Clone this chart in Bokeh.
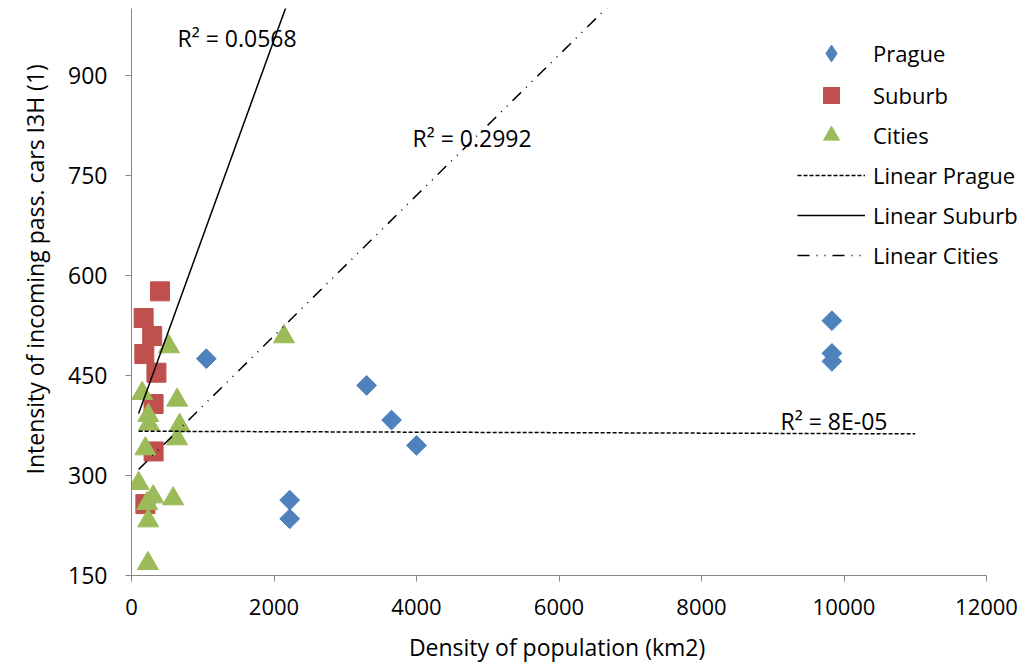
import numpy as np
from bokeh.plotting import figure
from bokeh.models import Range1d, FixedTicker, Legend, LegendItem, Title, ColumnDataSource
from bokeh.embed import file_html
from bokeh.resources import INLINE
from bokeh.core.properties import value

# ---------------- data ----------------
prague_x = [1050, 3300, 3650, 4000, 2220, 2220, 9830, 9830, 9830]
prague_y = [475, 435, 383, 345, 263, 235, 532, 483, 471]

suburb_x = [400, 170, 290, 180, 350, 310, 310, 195]
suburb_y = [576, 536, 509, 482, 454, 407, 336, 257]

cities_x = [2140, 525, 150, 640, 235, 245, 675, 640, 195, 100, 305, 585, 220, 235, 230]
cities_y = [508, 493, 423, 413, 390, 377, 375, 355, 340, 288, 268, 265, 258, 232, 168]

trend_names = ["Linear Prague", "Linear Suburb", "Linear Cities"]
trend_slope = [-0.00036, 0.2946, 0.1053]
trend_intercept = [366.3, 363.4, 298.6]
trend_x_span = [100, 11000]

r2_texts = ["R² = 8E-05", "R² = 0.0568", "R² = 0.2992"]
r2_x = [9109, 646, 3944]
r2_y = [381, 956, 806]

x_ticks = [0, 2000, 4000, 6000, 8000, 10000, 12000]
y_ticks = [150, 300, 450, 600, 750, 900]
x_axis_end = 12000

FONT = "Open Sans"
AXIS_GRAY = "#868686"
BLUE, RED, GREEN = "#4F81BD", "#C0504D", "#9BBB59"

p = figure(width=1024, height=666,
           x_range=Range1d(0, x_axis_end * (1024 - 131) / 855), y_range=Range1d(150, 1000),
           output_backend="svg", toolbar_location=None,
           min_border_left=131, min_border_right=0,
           min_border_top=8, min_border_bottom=91)
p.outline_line_color = None
p.grid.visible = False
p.background_fill_color = "white"

for ax in (p.xaxis[0], p.yaxis[0]):
    ax.axis_line_color = AXIS_GRAY
    ax.major_tick_line_color = AXIS_GRAY
    ax.major_tick_out = 6
    ax.major_tick_in = 0
    ax.minor_tick_line_color = None
    ax.major_label_text_font = FONT
    ax.major_label_text_color = "black"

p.xaxis.bounds = (0, x_axis_end)
p.xaxis.ticker = FixedTicker(ticks=x_ticks)
p.yaxis.ticker = FixedTicker(ticks=y_ticks)
p.xaxis.major_label_text_font_size = "22px"
p.yaxis.major_label_text_font_size = "23px"
p.xaxis.major_label_standoff = 17
p.yaxis.major_label_standoff = 18

# trailing no-break spaces centre the visible title under the axis (0..12000)
p.xaxis.axis_label = "Density of population (km2)" + "\u00a0" * 7
p.xaxis.axis_label_text_font = FONT
p.xaxis.axis_label_text_font_size = "23px"
p.xaxis.axis_label_text_font_style = "normal"
p.xaxis.axis_label_text_color = "black"
p.xaxis.axis_label_standoff = 13

ytitle = Title(text="Intensity of incoming pass. cars I3H (1)", align="left", offset=101,
               text_font=FONT, text_font_size="23px", text_font_style="normal",
               text_color="black", standoff=29)
p.add_layout(ytitle, "left")

# ---------------- markers ----------------
# legend key for Prague (diamond); drawn first, fully covered by the real markers
r_prague_key = p.scatter(prague_x, prague_y, marker="diamond", size=17,
                         fill_color=BLUE, line_color=BLUE)
r_prague = p.scatter(prague_x, prague_y, marker="square", angle=np.pi / 4, size=14,
                     fill_color=BLUE, line_color=BLUE)
r_suburb = p.scatter(suburb_x, suburb_y, marker="square", size=19,
                     fill_color=RED, line_color=RED)
r_cities = p.scatter(cities_x, cities_y, marker="triangle", size=21,
                     fill_color=GREEN, line_color=GREEN)

# ---------------- trend lines ----------------
dashes = ["4 2", "solid", "12 7 1 7 1 7"]
tx = np.array(trend_x_span, dtype=float)
trend_renderers = []
for s, b, d in zip(trend_slope, trend_intercept, dashes):
    r = p.line(tx, b + s * tx, line_color="black", line_width=1.5, line_dash=d)
    trend_renderers.append(r)

# ---------------- R² labels ----------------
src = ColumnDataSource(dict(x=r2_x, y=r2_y, t=r2_texts))
p.text(x="x", y="y", text="t", source=src, text_font=value(FONT), text_font_size="23px",
       text_color="black", text_align="left", text_baseline="middle")

# ---------------- legends ----------------
def style(leg):
    leg.padding = 0
    leg.margin = 0
    leg.spacing = 0
    leg.border_line_color = None
    leg.background_fill_alpha = 0
    leg.label_text_font = FONT
    leg.label_text_font_size = "22px"
    leg.label_text_color = "black"
    leg.label_standoff = 8
    leg.glyph_width = 68
    leg.label_text_baseline = "middle"

leg1 = Legend(items=[LegendItem(label="Prague", renderers=[r_prague_key])],
              location=(666, 501))
style(leg1)
leg1.glyph_height = 42

leg2 = Legend(items=[LegendItem(label="Suburb", renderers=[r_suburb]),
                     LegendItem(label="Cities", renderers=[r_cities])] +
                    [LegendItem(label=n, renderers=[r]) for n, r in zip(trend_names, trend_renderers)],
              location=(666, 300))
style(leg2)
leg2.glyph_height = 40

p.add_layout(leg1)
p.add_layout(leg2)

open("out.html", "w").write(file_html(p, INLINE))
